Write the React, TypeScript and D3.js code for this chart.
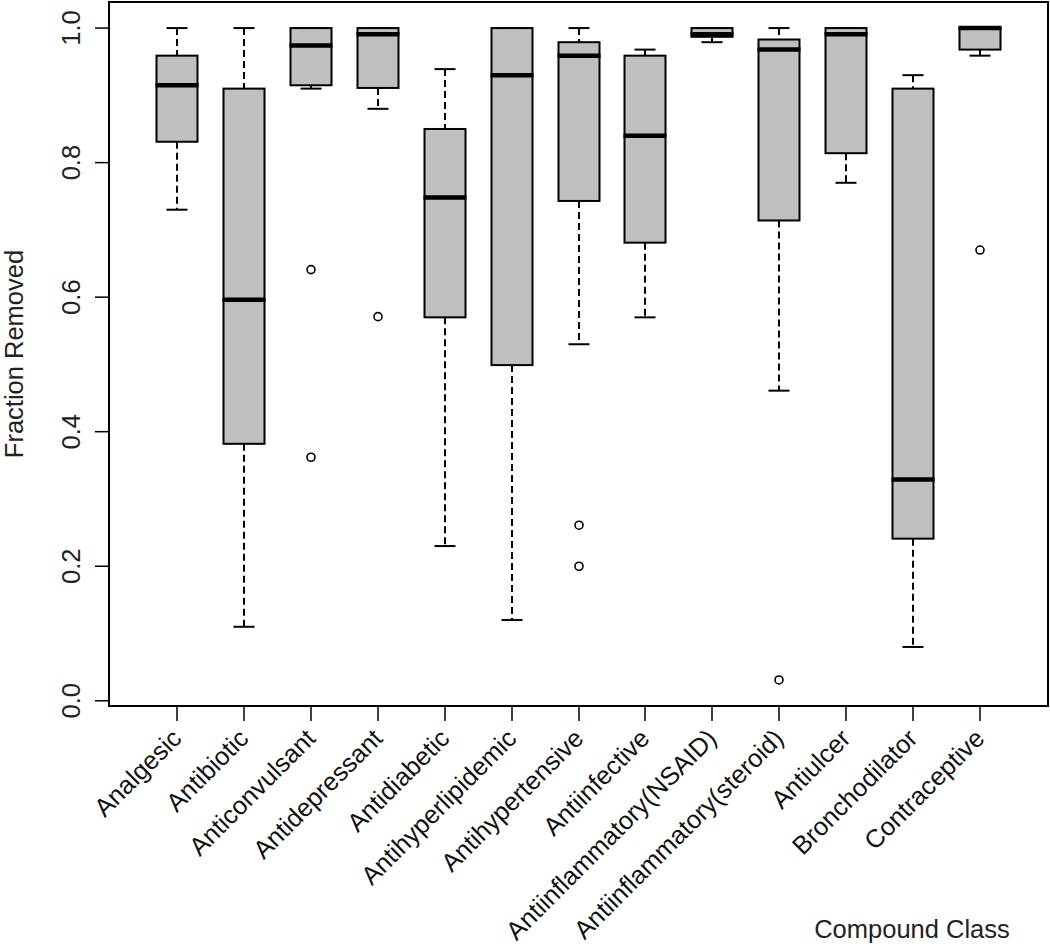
import React from "react";
import * as d3 from "d3";

const categories = [
  "Analgesic", "Antibiotic", "Anticonvulsant", "Antidepressant", "Antidiabetic",
  "Antihyperlipidemic", "Antihypertensive", "Antiinfective", "Antiinflammatory(NSAID)",
  "Antiinflammatory(steroid)", "Antiulcer", "Bronchodilator", "Contraceptive",
];
const lowerWhisker = [0.73, 0.11, 0.91, 0.88, 0.23, 0.12, 0.53, 0.57, 0.979, 0.461, 0.77, 0.08, 0.959];
const q1 = [0.831, 0.382, 0.915, 0.911, 0.57, 0.499, 0.743, 0.681, 0.987, 0.714, 0.814, 0.241, 0.968];
const medians = [0.915, 0.596, 0.974, 0.991, 0.748, 0.93, 0.959, 0.84, 0.991, 0.968, 0.991, 0.329, 1.0];
const q3 = [0.959, 0.91, 1.0, 1.0, 0.85, 1.0, 0.979, 0.959, 1.0, 0.983, 1.0, 0.91, 1.0];
const upperWhisker = [1.0, 1.0, 1.0, 1.0, 0.939, 1.0, 1.0, 0.968, 1.0, 1.0, 1.0, 0.93, 1.0];
const outliers: number[][] = [[], [], [0.641, 0.362], [0.571], [], [], [0.261, 0.2], [], [], [0.031], [], [], [0.67]];
const yTicks = [0.0, 0.2, 0.4, 0.6, 0.8, 1.0];
const xTitle = "Compound Class";
const yTitle = "Fraction Removed";

export default function App() {
  const W = 1050, H = 944;
  const left = 109, right = 1048, top = 2, bottom = 706;
  const n = categories.length;
  const x = d3.scaleLinear().domain([0.5 - 0.04 * n, n + 0.5 + 0.04 * n]).range([left, right]);
  const allVals = [...lowerWhisker, ...upperWhisker, ...outliers.flat()];
  const lo = d3.min(allVals) as number, hi = d3.max(allVals) as number;
  const pad = (hi - lo) * 0.04;
  const y = d3.scaleLinear().domain([lo - pad, hi + pad]).range([bottom, top]);
  const boxW = 41;
  const capW = 21;
  const font = "'Liberation Sans', Arial, Helvetica, sans-serif";
  const fs = 25.5;

  return (
    <svg width={W} height={H} style={{ position: "absolute", left: 0, top: 0, background: "#fff" }} fontFamily={font}>
      <rect x={0} y={0} width={W} height={H} fill="#fff" />
      {categories.map((c, i) => {
        const cx = Math.round(x(i + 1));
        return (
          <g key={c}>
            <line x1={cx} x2={cx} y1={y(upperWhisker[i])} y2={y(q3[i])} stroke="#000" strokeWidth={2} strokeDasharray="7,4" />
            <line x1={cx} x2={cx} y1={y(q1[i])} y2={y(lowerWhisker[i])} stroke="#000" strokeWidth={2} strokeDasharray="7,4" />
            <line x1={cx - capW / 2} x2={cx + capW / 2} y1={y(upperWhisker[i])} y2={y(upperWhisker[i])} stroke="#000" strokeWidth={2} />
            <line x1={cx - capW / 2} x2={cx + capW / 2} y1={y(lowerWhisker[i])} y2={y(lowerWhisker[i])} stroke="#000" strokeWidth={2} />
            <rect x={cx - boxW / 2} y={y(q3[i])} width={boxW} height={y(q1[i]) - y(q3[i])} fill="#bfbfbf" stroke="#000" strokeWidth={2} />
            <line x1={cx - boxW / 2 - 1} x2={cx + boxW / 2 + 1} y1={y(medians[i])} y2={y(medians[i])} stroke="#000" strokeWidth={4.5} />
            {outliers[i].map((v, j) => (
              <circle key={j} cx={cx} cy={y(v)} r={4} fill="none" stroke="#000" strokeWidth={1.6} />
            ))}
            <line x1={cx} x2={cx} y1={bottom} y2={bottom + 15} stroke="#000" strokeWidth={1.5} />
            <text
              transform={`translate(${cx + 6},${bottom + 34}) rotate(-45)`}
              textAnchor="end"
              fontSize={fs}
              fill="#111"
            >
              {c}
            </text>
          </g>
        );
      })}
      {yTicks.map((t) => (
        <g key={t}>
          <line x1={left - 14} x2={left} y1={y(t)} y2={y(t)} stroke="#000" strokeWidth={1.5} />
          <text transform={`translate(80,${y(t)}) rotate(-90)`} textAnchor="middle" fontSize={fs} fill="#222">
            {t.toFixed(1)}
          </text>
        </g>
      ))}
      <rect x={left} y={top} width={right - left} height={bottom - top} fill="none" stroke="#000" strokeWidth={2} />
      <text transform={`translate(23,${(top + bottom) / 2}) rotate(-90)`} textAnchor="middle" fontSize={fs} fill="#222">
        {yTitle}
      </text>
      <text x={912} y={938} textAnchor="middle" fontSize={fs} fill="#222">
        {xTitle}
      </text>
    </svg>
  );
}
